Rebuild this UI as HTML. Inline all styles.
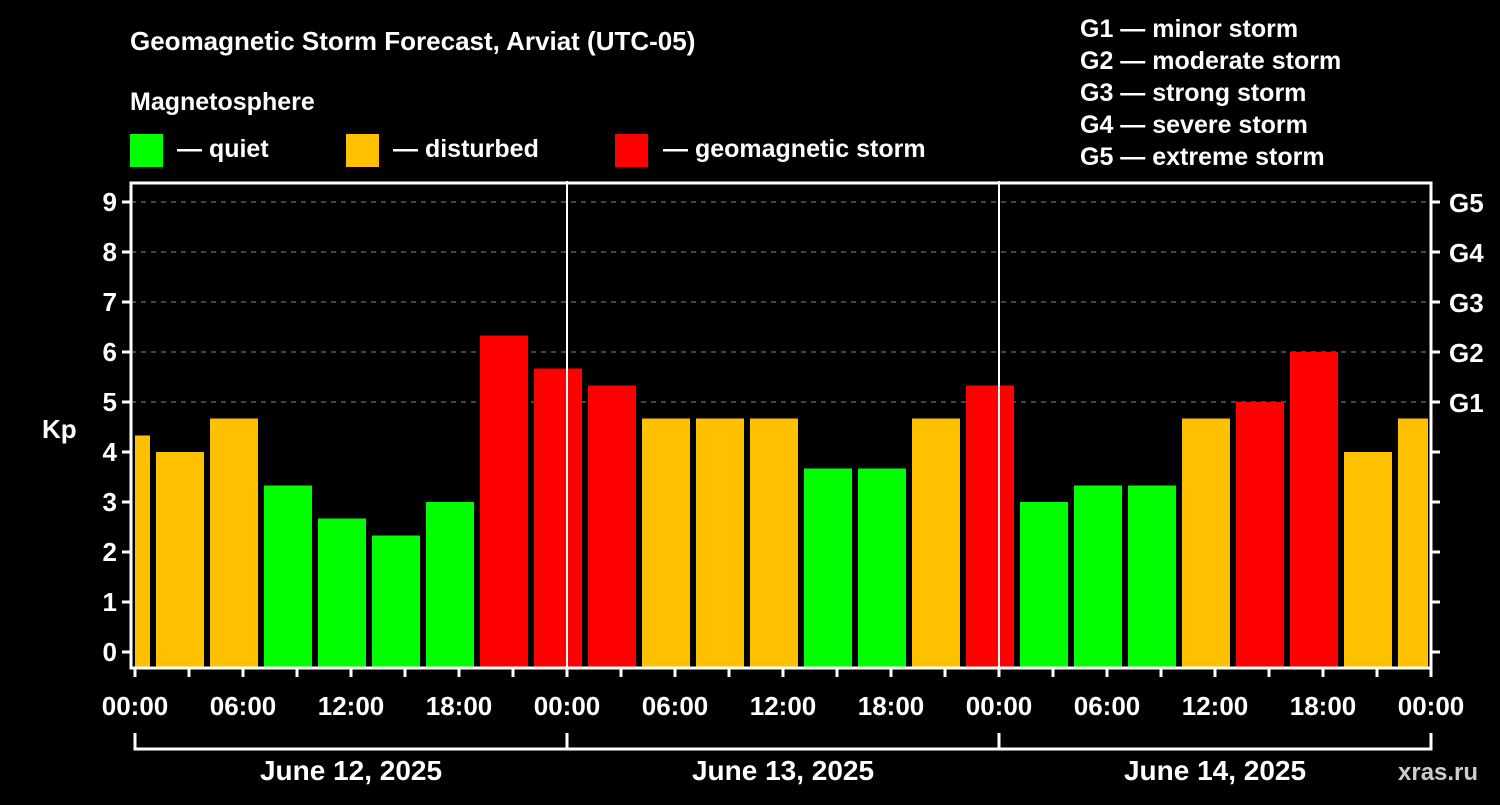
<!DOCTYPE html>
<html><head><meta charset="utf-8"><style>
body{margin:0;background:#000;width:1500px;height:800px;overflow:hidden}
svg text{font-family:"Liberation Sans",sans-serif;font-weight:bold;fill:#fff}
</style></head><body>
<svg id="c" width="1500" height="800">
<text x="130" y="50" font-size="26">Geomagnetic Storm Forecast, Arviat (UTC-05)</text>
<text x="130" y="110" font-size="25">Magnetosphere</text>
<rect x="130" y="134" width="33" height="33" fill="#00ff00"/>
<text x="177" y="157" font-size="25">— quiet</text>
<rect x="346" y="134" width="33" height="33" fill="#ffc000"/>
<text x="393" y="157" font-size="25">— disturbed</text>
<rect x="615" y="134" width="33" height="33" fill="#ff0000"/>
<text x="663" y="157" font-size="25">— geomagnetic storm</text>
<g font-size="25">
<text x="1080" y="37">G1 — minor storm</text>
<text x="1080" y="69">G2 — moderate storm</text>
<text x="1080" y="101">G3 — strong storm</text>
<text x="1080" y="133">G4 — severe storm</text>
<text x="1080" y="165">G5 — extreme storm</text>
</g>
<text x="42" y="438" font-size="26">Kp</text>
<text x="1398" y="780" font-size="24" fill="#fff" style="fill:#ccc">xras.ru</text>
<g id="plot"></g>
</svg>
<script>
const kpValues=[4.33,4.0,4.67,3.33,2.67,2.33,3.0,6.33,5.67,5.33,4.67,4.67,4.67,3.67,3.67,4.67,5.33,3.0,3.33,3.33,4.67,5.0,6.0,4.0,4.67];
const dayLabels=["June 12, 2025","June 13, 2025","June 14, 2025"];
const yTicks=[0,1,2,3,4,5,6,7,8,9];
const gLabels=["G1","G2","G3","G4","G5"];
const hourLabels=["00:00","06:00","12:00","18:00"];
const NS="http://www.w3.org/2000/svg";
const g=document.getElementById('plot');
const X0=131,X1=1431,YT=183,YB=668;
const xH=h=>135+18*h;           // hours since start of day 1 (local)
const yK=k=>652-50*k;
function mk(t,a,p){const e=document.createElementNS(NS,t);for(const k in a)e.setAttribute(k,a[k]);(p||g).appendChild(e);return e;}
// grid
yTicks.forEach(k=>{
 if(k>=5){const l=mk('line',{x1:X0,x2:X1,y1:yK(k),y2:yK(k),stroke:'#888','stroke-dasharray':'5,5'});
 
 }
 const t=mk('line',{x1:X0-9,x2:X0,y1:yK(k),y2:yK(k),stroke:'#fff','stroke-width':3});
 
 
 const t2=mk('line',{x1:X1,x2:X1+9,y1:yK(k),y2:yK(k),stroke:'#fff','stroke-width':3});
 
 
 const tx=mk('text',{x:X0-14,y:yK(k)+9,'font-size':26,'text-anchor':'end'});tx.textContent=k;
 
 
});
gLabels.forEach((s,i)=>{const tx=mk('text',{x:X1+18,y:yK(5+i)+10,'font-size':26});tx.textContent=s;
 
 });
// bars: first bar is block 22:00-01:00 before start
kpValues.forEach((v,i)=>{
 let s=-2+3*i,e=s+3;
 let xs=Math.max(xH(s)+3,xH(0)),xe=Math.min(xH(e)-3,xH(72)-3);
 if(i===kpValues.length-1)xe=X1-3;
 const c=v>=5?'#ff0000':(v>=4?'#ffc000':'#00ff00');
 const r=mk('rect',{x:xs,y:yK(v),width:xe-xs,height:YB-yK(v),fill:c});
 
 
});
// day separators
[24,48].forEach(h=>{const l=mk('line',{x1:xH(h),x2:xH(h),y1:YT-2,y2:YB,stroke:'#fff','stroke-width':2});
 
 });
// frame
const f=mk('rect',{x:X0,y:YT,width:X1-X0,height:YB-YT,fill:'none',stroke:'#fff','stroke-width':3});


// x ticks & labels
for(let h=0;h<=72;h+=3){
 const t=mk('line',{x1:xH(h),x2:xH(h),y1:YB,y2:YB+9,stroke:'#fff','stroke-width':3});
 
 
 if(h%6===0){const tx=mk('text',{x:xH(h),y:715,'font-size':26,'text-anchor':'middle'});tx.textContent=hourLabels[(h/6)%4];
 
 }
}
dayLabels.forEach((d,i)=>{
 const a=xH(24*i),b=xH(24*i+24);
 const p=mk('path',{d:`M${a} 733V749H${b}V733`,stroke:'#fff','stroke-width':3,fill:'none'});
 
 
 const tx=mk('text',{x:(a+b)/2,y:780,'font-size':28,'text-anchor':'middle'});tx.textContent=d;
 
 
});
</script>
</body></html>
